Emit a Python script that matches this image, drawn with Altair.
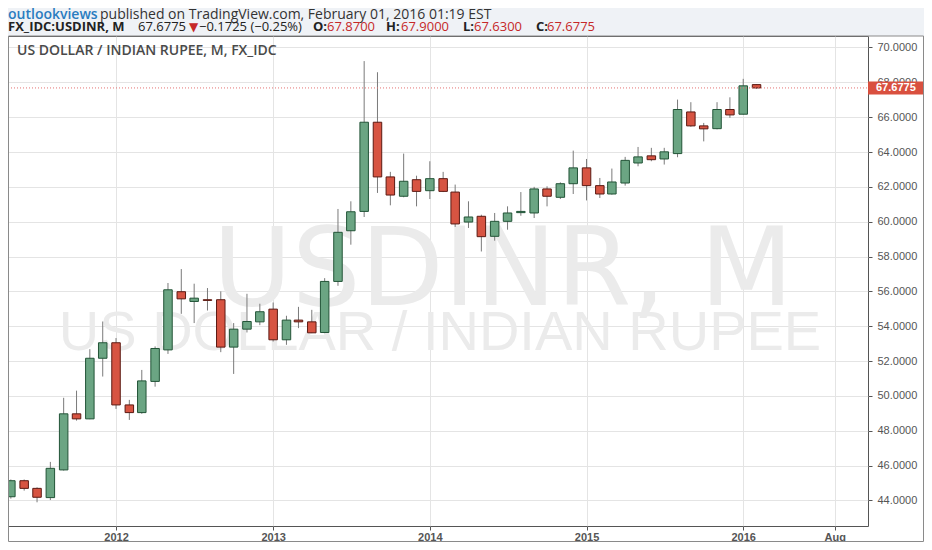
import altair as alt
import pandas as pd
import numpy as np

# ---- data (monthly USD/INR candles) ----
months = [
    "2011-05-01", "2011-06-01", "2011-07-01", "2011-08-01", "2011-09-01", "2011-10-01",
    "2011-11-01", "2011-12-01", "2012-01-01", "2012-02-01", "2012-03-01", "2012-04-01",
    "2012-05-01", "2012-06-01", "2012-07-01", "2012-08-01", "2012-09-01", "2012-10-01",
    "2012-11-01", "2012-12-01", "2013-01-01", "2013-02-01", "2013-03-01", "2013-04-01",
    "2013-05-01", "2013-06-01", "2013-07-01", "2013-08-01", "2013-09-01", "2013-10-01",
    "2013-11-01", "2013-12-01", "2014-01-01", "2014-02-01", "2014-03-01", "2014-04-01",
    "2014-05-01", "2014-06-01", "2014-07-01", "2014-08-01", "2014-09-01", "2014-10-01",
    "2014-11-01", "2014-12-01", "2015-01-01", "2015-02-01", "2015-03-01", "2015-04-01",
    "2015-05-01", "2015-06-01", "2015-07-01", "2015-08-01", "2015-09-01", "2015-10-01",
    "2015-11-01", "2015-12-01", "2016-01-01", "2016-02-01",
]
opens = [
    44.21, 45.13, 44.69, 44.16, 45.75, 48.97, 48.68, 52.16, 53.05, 49.48, 49.04, 50.83,
    52.64, 55.98, 55.42, 55.52, 55.52, 52.80, 53.83, 54.25, 54.98, 53.22, 54.35, 54.25,
    53.64, 56.57, 59.48, 60.59, 65.71, 62.57, 61.46, 62.41, 61.78, 62.47, 61.70, 59.98,
    60.31, 59.16, 60.02, 60.52, 60.50, 61.88, 61.40, 62.18, 63.09, 62.07, 61.59, 62.22,
    63.37, 63.78, 63.60, 63.91, 66.30, 65.50, 65.34, 66.44, 66.17, 67.87,
]
highs = [
    45.20, 45.20, 44.75, 46.21, 49.89, 50.30, 52.68, 54.27, 53.32, 49.77, 51.49, 52.84,
    56.48, 57.28, 56.44, 56.19, 56.00, 54.18, 55.86, 55.29, 55.36, 54.60, 55.11, 54.94,
    56.76, 60.73, 61.17, 69.22, 68.58, 62.86, 63.91, 62.64, 63.47, 62.86, 62.13, 61.17,
    60.40, 60.50, 60.88, 61.70, 62.00, 62.03, 62.26, 64.08, 63.60, 62.51, 63.05, 63.72,
    64.29, 64.24, 64.24, 67.01, 66.86, 65.67, 66.86, 67.14, 68.20, 67.90,
]
lows = [
    44.10, 44.56, 43.89, 44.02, 45.71, 48.58, 48.66, 51.11, 49.25, 48.62, 48.97, 50.53,
    52.41, 54.71, 54.18, 54.90, 52.51, 51.26, 53.64, 54.06, 53.12, 52.93, 53.89, 53.60,
    53.60, 56.32, 58.68, 60.27, 61.65, 60.94, 61.40, 60.88, 61.30, 61.70, 59.70, 59.64,
    58.29, 58.91, 59.54, 60.34, 60.21, 60.88, 61.30, 61.59, 61.22, 61.36, 61.55, 62.07,
    63.18, 63.47, 63.28, 63.70, 65.45, 64.61, 65.30, 65.96, 66.15, 67.63,
]
closes = [
    45.13, 44.69, 44.18, 45.84, 48.97, 48.68, 52.16, 53.05, 49.48, 49.04, 50.86, 52.72,
    56.09, 55.57, 55.61, 55.48, 52.80, 53.83, 54.27, 54.83, 53.22, 54.35, 54.25, 53.62,
    56.57, 59.39, 60.57, 65.71, 62.57, 61.53, 62.32, 61.74, 62.47, 61.74, 59.87, 60.27,
    59.14, 60.02, 60.50, 60.59, 61.88, 61.46, 62.18, 63.09, 62.07, 61.59, 62.28, 63.52,
    63.72, 63.56, 64.01, 66.44, 65.50, 65.33, 66.44, 66.13, 67.80, 67.6775,
]
y_ticks = [44, 46, 48, 50, 52, 54, 56, 58, 60, 62, 64, 66, 68, 70]
x_ticks = [(2012, 1), (2013, 1), (2014, 1), (2015, 1), (2016, 1), (2016, 8)]
last_price = 67.6775

df = pd.DataFrame({"date": months, "open": opens, "high": highs, "low": lows, "close": closes})
df["dir"] = np.where(df["close"] >= df["open"], "up", "down")
one = pd.DataFrame({"v": [0]})

W, H = 860, 490
PAD = {"left": 0, "top": 28, "right": 56, "bottom": 16}
FONT = "Liberation Sans"
UI = "Open Sans"

xscale = alt.Scale(
    type="utc",
    domain=[alt.DateTime(year=2011, month=5, date=6, utc=True),
            alt.DateTime(year=2016, month=10, date=6, utc=True)],
    nice=False,
)
yscale = alt.Scale(domain=[42.53, 70.66], nice=False, zero=False)

x_axis = alt.Axis(
    title=None, orient="bottom",
    values=[alt.DateTime(year=y, month=m, date=1, utc=True) for y, m in x_ticks],
    labelExpr="utcFormat(datum.value, '%m') == '08' ? 'Aug' : utcFormat(datum.value, '%Y')",
    grid=True, gridColor="#e4e4e4", domain=False,
    tickColor="#555555", tickSize=4, labelColor="#555555", labelFont=FONT,
    labelFontSize=11, labelFontWeight="bold", labelPadding=1,
)
y_axis = alt.Axis(
    title=None, orient="right", values=y_ticks, format=".4f",
    grid=True, gridColor="#e4e4e4", domain=False,
    tickColor="#555555", tickSize=4, labelColor="#555555", labelFont=FONT,
    labelFontSize=11, labelPadding=5,
)

base = alt.Chart(df)
X = alt.X("date:T", scale=xscale, axis=x_axis)

wicks = base.mark_rule(color="#7a7a7a", strokeWidth=1, clip=True).encode(
    x=X,
    y=alt.Y("low:Q", scale=yscale, axis=y_axis),
    y2="high:Q",
)

bodies = base.mark_bar(size=8.5, strokeWidth=1, clip=True).encode(
    x=X,
    y=alt.Y("open:Q", scale=yscale, axis=y_axis),
    y2="close:Q",
    fill=alt.Fill("dir:N", scale=alt.Scale(domain=["up", "down"], range=["#6ba583", "#d75442"]), legend=None),
    stroke=alt.Stroke("dir:N", scale=alt.Scale(domain=["up", "down"], range=["#225437", "#5b1a13"]), legend=None),
)


def rect(x, x2, y, y2, **kw):
    return alt.Chart(one).mark_rect(**kw).encode(
        x=alt.value(x), x2=alt.value(x2), y=alt.value(y), y2=alt.value(y2))


def txt(text, x, y, size=13, color="#333333", weight="normal", font=UI, align="left", baseline="alphabetic"):
    return alt.Chart(one).mark_text(
        text=text, fontSize=size, color=color, fontWeight=weight, font=font,
        align=align, baseline=baseline,
    ).encode(x=alt.value(x), y=alt.value(y))


TOTAL_W = W + PAD["right"]
bg_top = rect(0, TOTAL_W, -PAD["top"], 0, fill="#eff2f6")
frame = rect(0.5, TOTAL_W - 0.5, 0, H + PAD["bottom"] - 0.5, fill="transparent", stroke="#8a8a8a", strokeWidth=1)

wm1 = txt("USDINR, M", 495, 269, size=108, color="#ebebeb", font="DejaVu Sans", align="center")
wm2 = txt("US DOLLAR / INDIAN RUPEE", 432, 314, size=56, color="#ebebeb", font=FONT, align="center")


def price_y():
    return alt.YDatum(last_price, type="quantitative", scale=yscale, axis=y_axis)


dotted = alt.Chart(one).mark_rule(color="#e57373", strokeDash=[1, 2], strokeWidth=1).encode(
    x=alt.value(0), x2=alt.value(W), y=price_y(),
)
price_box = alt.Chart(one).mark_rule(color="#d9503f", strokeWidth=13).encode(
    x=alt.value(860), x2=alt.value(915), y=price_y(),
)
price_txt = alt.Chart(one).mark_text(
    text=f"{last_price:.4f}", color="white", fontWeight="bold", fontSize=11, font=FONT,
    align="left", baseline="middle",
).encode(x=alt.value(868), y=price_y())

RED = "#c62828"
DARK = "#222222"
L1, L2 = -17, -5
header = [
    txt("outlookviews", 0, L1, size=14, color="#2a7cc0", weight=600),
    txt("published on TradingView.com, February 01, 2016 01:19 EST", 92, L1, size=14, color="#333333"),
    txt("FX_IDC:USDINR, M", 0, L2, color=DARK, weight="bold"),
    txt("67.6775", 130, L2, color=DARK),
    txt("\u25bc", 181, L2, color=RED, font="DejaVu Sans", size=12),
    txt("\u22120.1725 (\u22120.25%)", 191, L2, color=DARK),
    txt("O:", 305, L2, color=DARK, weight="bold"),
    txt("67.8700", 319, L2, color=RED),
    txt("H:", 378, L2, color=DARK, weight="bold"),
    txt("67.9000", 393, L2, color=RED),
    txt("L:", 455, L2, color=DARK, weight="bold"),
    txt("67.6300", 466, L2, color=RED),
    txt("C:", 528, L2, color=DARK, weight="bold"),
    txt("67.6775", 539, L2, color=RED),
    txt("US DOLLAR / INDIAN RUPEE, M, FX_IDC", 9, 19, size=14, color="#4a4a4a", weight=600),
]

chart = alt.layer(
    bg_top, wm1, wm2, wicks, bodies, dotted, price_box, price_txt,
    frame, *header,
).properties(
    width=W, height=H,
    autosize=alt.AutoSizeParams(type="none"),
    padding=PAD,
    background="white",
).configure_view(stroke="#555555", strokeWidth=1)

chart.save("out.html", embed_options={"renderer": "svg", "actions": False})
